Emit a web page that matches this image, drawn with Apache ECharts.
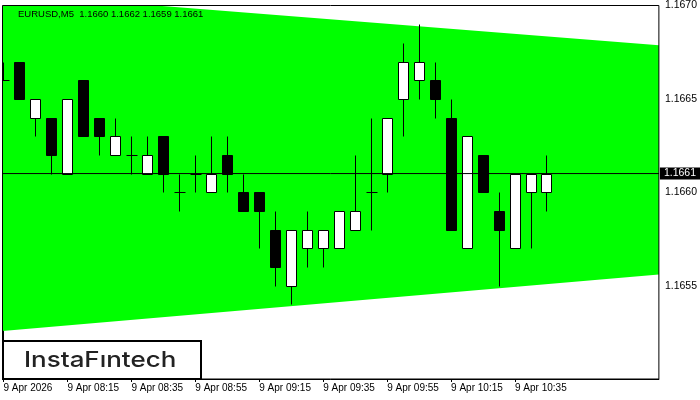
<!DOCTYPE html>
<html>
<head>
<meta charset="utf-8">
<script src="https://cdn.jsdelivr.net/npm/echarts@6/dist/echarts.min.js"></script>
<style>html,body{margin:0;padding:0;background:#fff}#c{width:700px;height:400px}</style>
</head>
<body>
<div id="c"></div>
<script>
// ---- data ----
const candleOpen  = [1.1666,1.1667,1.1664,1.1664,1.1661,1.1666,1.1664,1.1662,1.1662,1.1661,1.1663,1.1660,1.1661,1.1660,1.1662,1.1660,1.1660,1.1658,1.1655,1.1657,1.1657,1.1657,1.1658,1.1660,1.1661,1.1665,1.1666,1.1666,1.1664,1.1657,1.1662,1.1659,1.1657,1.1660,1.1660];
const candleClose = [1.1666,1.1665,1.1665,1.1662,1.1665,1.1663,1.1663,1.1663,1.1662,1.1662,1.1661,1.1660,1.1661,1.1661,1.1661,1.1659,1.1659,1.1656,1.1658,1.1658,1.1658,1.1659,1.1659,1.1660,1.1664,1.1667,1.1667,1.1665,1.1658,1.1663,1.1660,1.1658,1.1661,1.1661,1.1661];
const candleLow   = [1.1666,1.1665,1.1663,1.1661,1.1661,1.1663,1.1662,1.1662,1.1661,1.1661,1.1660,1.1659,1.1660,1.1660,1.1660,1.1659,1.1657,1.1655,1.1654,1.1656,1.1656,1.1657,1.1658,1.1658,1.1660,1.1663,1.1665,1.1664,1.1658,1.1657,1.1660,1.1655,1.1657,1.1657,1.1659];
const candleHigh  = [1.1667,1.1667,1.1665,1.1664,1.1665,1.1666,1.1664,1.1664,1.1663,1.1663,1.1663,1.1661,1.1662,1.1663,1.1663,1.1661,1.1660,1.1659,1.1658,1.1659,1.1658,1.1659,1.1662,1.1664,1.1664,1.1668,1.1669,1.1667,1.1665,1.1663,1.1662,1.1660,1.1661,1.1661,1.1662];
const tickIndex  = [0,4,8,12,16,20,24,28,32];
const tickLabels = ['9 Apr 2026','9 Apr 08:15','9 Apr 08:35','9 Apr 08:55','9 Apr 09:15','9 Apr 09:35','9 Apr 09:55','9 Apr 10:15','9 Apr 10:35'];
const channelX     = [-0.0625, 41];
const channelUpper = [1.167065, 1.166787];
const channelLower = [1.165257, 1.165559];
const currentPrice = 1.1661;
const titleText = 'EURUSD,M5  1.1660 1.1662 1.1659 1.1661';
const logoText = 'InstaFıntech';

const candleData = candleOpen.map((o, i) => [i, o, candleClose[i], candleLow[i], candleHigh[i]]);
const channelData = [[channelX[0], channelUpper[0], channelLower[0], channelX[1], channelUpper[1], channelLower[1]]];
const priceLineData = [[channelX[0], currentPrice], [channelX[1], currentPrice]];

function renderChannel(params, api) {
  const x0 = api.value(0), u0 = api.value(1), l0 = api.value(2);
  const x1 = api.value(3), u1 = api.value(4), l1 = api.value(5);
  return {
    type: 'polygon',
    shape: { points: [api.coord([x0, u0]), api.coord([x1, u1]), api.coord([x1, l1]), api.coord([x0, l0])] },
    style: { fill: '#00ff00', stroke: null }
  };
}

function renderCandle(params, api) {
  const i = api.value(0), o = api.value(1), c = api.value(2), lo = api.value(3), hi = api.value(4);
  const pO = api.coord([i, o]), pC = api.coord([i, c]);
  const pL = api.coord([i, lo]), pH = api.coord([i, hi]);
  const x = Math.round(pO[0] - 0.5) + 0.5;
  const yTop = Math.round(Math.min(pO[1], pC[1])) + 0.5;
  const yBot = Math.round(Math.max(pO[1], pC[1])) + 0.5;
  const yH = Math.round(pH[1]) + 0.5, yL = Math.round(pL[1]) + 0.5;
  const children = [{
    type: 'line',
    shape: { x1: x, y1: yH, x2: x, y2: yL },
    style: { stroke: '#000', lineWidth: 1 }
  }];
  if (o === c) {
    children.push({ type: 'line', shape: { x1: x - 5, y1: yTop, x2: x + 6, y2: yTop }, style: { stroke: '#000', lineWidth: 1 } });
  } else {
    children.push({
      type: 'rect',
      shape: { x: x - 5, y: yTop, width: 10, height: yBot - yTop },
      style: { fill: c < o ? '#000' : '#fff', stroke: '#000', lineWidth: 1 }
    });
  }
  return { type: 'group', children };
}

const chart = echarts.init(document.getElementById('c'), null, { renderer: 'canvas' });
chart.setOption({
  animation: false,
  backgroundColor: '#fff',
  title: {
    text: titleText, left: 13, top: 4,
    textStyle: { fontSize: 9.5, fontWeight: 'normal', color: '#000', fontFamily: 'Liberation Sans, Arial, sans-serif' }
  },
  grid: { left: 2.5, right: 40.5, top: 3, bottom: 21, show: true, borderColor: '#000', borderWidth: 1, backgroundColor: 'transparent', z: 10 },
  xAxis: {
    type: 'value', min: channelX[0], max: channelX[1],
    axisLine: { show: true, lineStyle: { color: '#000' } },
    splitLine: { show: false },
    axisTick: { show: true, length: 3, customValues: tickIndex, lineStyle: { color: '#000' } },
    axisLabel: {
      customValues: tickIndex, align: 'left', margin: 4, fontSize: 10, color: '#000',
      fontFamily: 'Liberation Sans, Arial, sans-serif',
      formatter: v => tickLabels[tickIndex.indexOf(Math.round(v))] || ''
    }
  },
  yAxis: {
    type: 'value', position: 'right', min: 1.1650, max: 1.1670, interval: 0.0005,
    axisLine: { show: true, lineStyle: { color: '#000' } },
    splitLine: { show: false },
    axisTick: { show: true, length: 4, lineStyle: { color: '#000' } },
    axisLabel: {
      margin: 6, fontSize: 10.5, color: '#000', padding: [3, 0, 0, 0], showMinLabel: false,
      fontFamily: 'Liberation Sans, Arial, sans-serif',
      formatter: v => v.toFixed(4)
    }
  },
  series: [
    { type: 'custom', clip: true, z: 1, data: channelData, renderItem: renderChannel,
      encode: { x: [0, 3], y: [1, 2, 4, 5] }, silent: true },
    { type: 'custom', clip: true, z: 3, data: candleData, renderItem: renderCandle,
      encode: { x: 0, y: [1, 2, 3, 4] }, silent: true },
    { type: 'line', data: priceLineData, z: 4, clip: false, silent: true, showSymbol: false, symbol: 'none',
      lineStyle: { color: '#000', width: 1 },
      endLabel: {
        show: true, distance: 1, formatter: currentPrice.toFixed(4),
        color: '#fff', backgroundColor: '#000', padding: [1, 4, 0, 4], fontSize: 10.5,
        fontFamily: 'Liberation Sans, Arial, sans-serif'
      }
    }
  ],
  graphic: [{
    type: 'group', left: 2, top: 340, z: 100,
    children: [
      { type: 'rect', shape: { x: 0, y: 0, width: 198, height: 38 }, style: { fill: '#fff', stroke: '#000', lineWidth: 2 } },
      { type: 'text', x: 21, y: 19, scaleX: 1.18,
        style: { text: logoText, fill: '#222', fontSize: 22, fontWeight: 500, fontFamily: 'Inter, Lato, sans-serif', verticalAlign: 'middle', align: 'left' } }
    ]
  }]
});
</script>
</body>
</html>
